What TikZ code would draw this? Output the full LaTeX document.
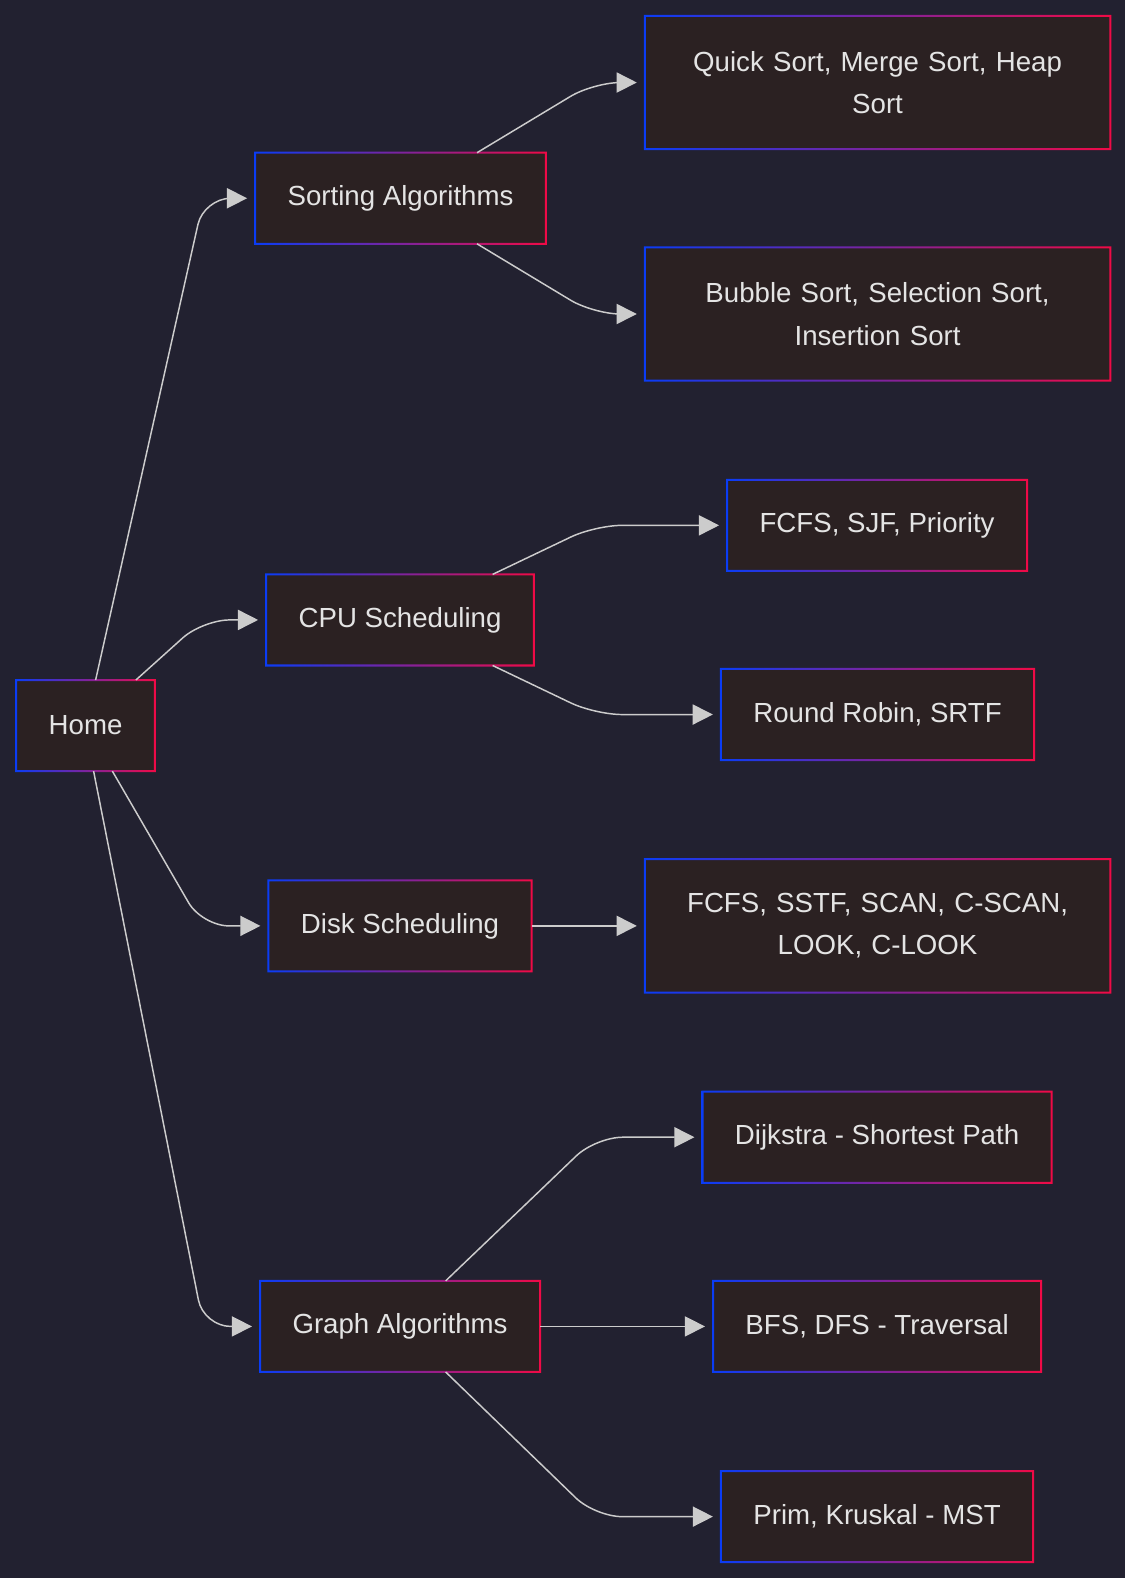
\documentclass[tikz,border=0pt]{standalone}
\usepackage{fontspec}
\setmainfont{Liberation Sans}
\usetikzlibrary{arrows.meta,calc,backgrounds}

\definecolor{bgcol}{HTML}{222130}
\definecolor{boxfill}{HTML}{2B2122}
\definecolor{boxtext}{HTML}{E4E4E4}
\definecolor{linkcol}{HTML}{CCCCCC}
\definecolor{edgeblue}{HTML}{0A3CF5}
\definecolor{edgered}{HTML}{F00A46}

\tikzset{
  box/.style={fill=boxfill, text=boxtext, inner xsep=24pt, inner ysep=0pt,
    minimum height=67.5pt, font=\fontsize{20.6}{31.5}\selectfont},
  widebox/.style={box, text width=298.5pt, align=center, minimum height=99pt},
  link/.style={draw=linkcol, line width=1.1pt, rounded corners=20pt,
    -{Triangle[length=15pt,width=15pt]}}
}

\begin{document}
\begin{tikzpicture}[x=0.75pt,y=-0.75pt]
    \fill[bgcol] (0,0) rectangle (1118,1568);
    \useasboundingbox (0,0) rectangle (1118,1568);

    \node[box] (home) at (85,721) {Home};

    \node[box] (sort) at (398,197) {Sorting Algorithms};
    \node[box] (cpu) at (397.5,616) {CPU Scheduling};
    \node[box] (disk) at (397.5,920) {Disk Scheduling};
    \node[box] (graph) at (397.5,1318) {Graph Algorithms};

    \node[widebox] (quick) at (872,82) {Quick Sort, Merge Sort, Heap\\Sort};
    \node[widebox] (bubble) at (872,312) {Bubble Sort, Selection Sort,\\Insertion Sort};
    \node[box] (fcfs) at (871.5,522) {FCFS, SJF, Priority};
    \node[box] (rr) at (872,710) {Round Robin, SRTF};
    \node[widebox] (seek) at (872,920) {FCFS, SSTF, SCAN, C-SCAN,\\LOOK, C-LOOK};
    \node[box] (dijk) at (871.5,1130) {Dijkstra - Shortest Path};
    \node[box] (bfs) at (871.5,1318) {BFS, DFS - Traversal};
    \node[box] (prim) at (871.5,1507) {Prim, Kruskal - MST};

    % gradient borders and glow
    \foreach \n in {home,sort,cpu,disk,graph,quick,bubble,fcfs,rr,seek,dijk,bfs,prim} {
        \shade[left color=edgeblue, right color=edgered, even odd rule]
            ($(\n.south west)+(-1,1)$) rectangle ($(\n.north east)+(1,-1)$)
            ($(\n.south west)+(1,-1)$) rectangle ($(\n.north east)+(-1,1)$);
        \begin{scope}[on background layer]
            \foreach \k in {3,6,9}
                \fill[gray, opacity=0.07] ($(\n.south west)+(-\k,\k)$) rectangle ($(\n.north east)+(\k,-\k)$);
        \end{scope}
    }
    \begin{scope}[on background layer]
        \fill[bgcol] (0,0) rectangle (1118,1568);
    \end{scope}

    \draw[link] ([xshift=7.5pt]home.north) -- ($(sort.west)+(-51,0)$) -- ([xshift=-6pt]sort.west);
    \draw[link] ([xshift=37.5pt]home.north) -- ($(cpu.west)+(-63,0)$) -- ([xshift=-6pt]cpu.west);
    \draw[link] ([xshift=20pt]home.south) -- ($(disk.west)+(-66,0)$) -- ([xshift=-6pt]disk.west);
    \draw[link] ([xshift=6pt]home.south) -- ($(graph.west)+(-56,0)$) -- ([xshift=-6pt]graph.west);

    \draw[link] ([xshift=57pt]sort.north) -- ($(quick.west)+(-51,0)$) -- ([xshift=-6pt]quick.west);
    \draw[link] ([xshift=57pt]sort.south) -- ($(bubble.west)+(-51,0)$) -- ([xshift=-6pt]bubble.west);

    \draw[link] ([xshift=69pt]cpu.north) -- ($(fcfs.west)+(-131,0)$) -- ([xshift=-6pt]fcfs.west);
    \draw[link] ([xshift=69pt]cpu.south) -- ($(rr.west)+(-125,0)$) -- ([xshift=-6pt]rr.west);

    \draw[link] (disk.east) -- ([xshift=-6pt]seek.west);

    \draw[link] ([xshift=34pt]graph.north) -- ($(dijk.west)+(-106,0)$) -- ([xshift=-6pt]dijk.west);
    \draw[link] (graph.east) -- ([xshift=-6pt]bfs.west);
    \draw[link] ([xshift=34pt]graph.south) -- ($(prim.west)+(-125,0)$) -- ([xshift=-6pt]prim.west);
\end{tikzpicture}
\end{document}
